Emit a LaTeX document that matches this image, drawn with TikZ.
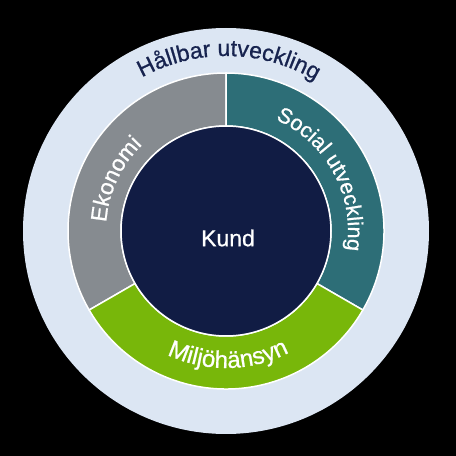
\documentclass[tikz,border=0pt]{standalone}
\usepackage{fontspec}
\setmainfont{Liberation Sans}
\newfontfamily\lblfont[FakeBold=0.8]{Liberation Sans}
\usetikzlibrary{decorations.text}
\definecolor{outerbg}{HTML}{DCE6F3}
\definecolor{ekgrey}{HTML}{868B90}
\definecolor{socteal}{HTML}{2D6E77}
\definecolor{miljgreen}{HTML}{78B70A}
\definecolor{kundnavy}{HTML}{111C44}
\definecolor{titlenavy}{HTML}{17234F}
\tikzset{
  sector/.style={draw=white, line width=1.5pt},
  arclabel/.style={decorate, decoration={text along path, text align=center, text color=white}},
}
\begin{document}
\begin{tikzpicture}
\fill[black] (0,0) rectangle (456pt,456pt);
\useasboundingbox (0,0) rectangle (456pt,456pt);
\coordinate (c) at (226pt,225pt);
% outer circle
\node[circle, fill=outerbg, minimum size=406pt, inner sep=0pt] (outer) at (c) {};
% ring sectors
\filldraw[sector, fill=ekgrey] ([shift={(90:158pt)}]c) arc (90:210:158pt) -- ([shift={(210:105pt)}]c) arc (210:90:105pt) -- cycle;
\filldraw[sector, fill=socteal] ([shift={(-30:158pt)}]c) arc (-30:90:158pt) -- ([shift={(90:105pt)}]c) arc (90:-30:105pt) -- cycle;
\filldraw[sector, fill=miljgreen] ([shift={(210:158pt)}]c) arc (210:330:158pt) -- ([shift={(330:105pt)}]c) arc (330:210:105pt) -- cycle;
% inner circle
\node[circle, fill=kundnavy, draw=white, line width=1.5pt, minimum size=210pt, inner sep=0pt] (inner) at (c) {};
\node[text=white, font=\lblfont\fontsize{23}{26}\selectfont] (kund) at (228pt,218pt) {Kund};
% arc labels
\path[decorate, decoration={text along path, text align=center, text color=titlenavy,
  text={|\lblfont\fontsize{23}{26}\selectfont|Hållbar utveckling}}]
  ([shift={(149:175pt)}]c) arc (149:29:175pt);
\path[arclabel, decoration={text={|\lblfont\fontsize{22.5}{26}\selectfont|Ekonomi}}]
  ([shift={(205:120pt)}]c) arc (205:105:120pt);
\path[arclabel, decoration={text={|\lblfont\fontsize{21.5}{26}\selectfont|Social utveckling}}]
  ([shift={(88:122pt)}]c) arc (88:-31:122pt);
\path[arclabel, decoration={text={|\lblfont\fontsize{24}{26}\selectfont|Miljöhänsyn}}]
  ([shift={(221:137pt)}]c) arc (221:321:137pt);
\end{tikzpicture}
\end{document}
